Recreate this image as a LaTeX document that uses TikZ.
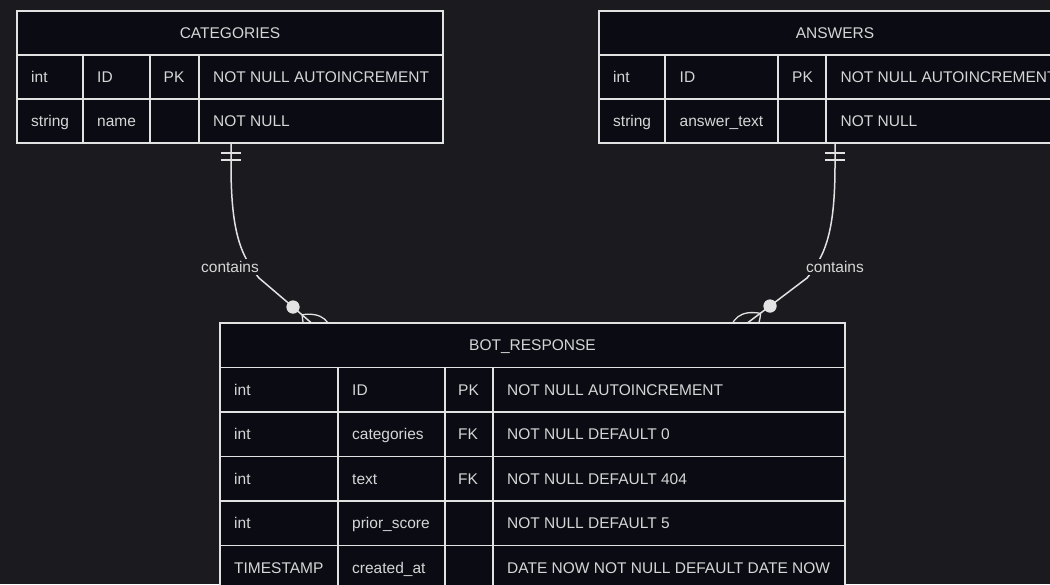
\documentclass[tikz,border=0pt]{standalone}
\usepackage{fontspec}
\setmainfont{Liberation Sans}
\usetikzlibrary{calc}
\definecolor{bgc}{HTML}{1B1B1F}
\definecolor{tfill}{HTML}{0B0B14}
\definecolor{linec}{HTML}{E2E2E2}
\definecolor{txtc}{HTML}{D6D6D6}
\tikzset{
  tbl/.style={draw=linec, fill=tfill, line width=1.6pt},
  grid/.style={draw=linec, line width=1.6pt},
  cell/.style={anchor=west, text=txtc, inner sep=0pt, text height=11.1pt, text depth=0pt, font=\fontsize{15.5pt}{18pt}\selectfont},
  hdr/.style={anchor=center, text=txtc, inner sep=0pt, text height=11.1pt, text depth=0pt, font=\fontsize{15.5pt}{18pt}\selectfont},
  lbl/.style={fill=bgc, text=txtc, inner sep=2pt, font=\fontsize{15.5pt}{18pt}\selectfont},
  conn/.style={draw=linec, line width=1.5pt},
  dot/.style={circle, fill=linec, draw=none, minimum size=13pt, inner sep=0pt},
}
\begin{document}
\begin{tikzpicture}[x=1pt,y=-1pt]
\useasboundingbox (0,0) rectangle (1050,584);
\fill[bgc] (0,0) rectangle (1050,584);

% ---- connectors (drawn first; tables cover their ends)
\coordinate (catFoot) at (231,143);
\coordinate (ansFoot) at (835,143);
\node[dot] (circL) at (293,307) {};
\node[dot] (circR) at (770,306) {};
\coordinate (botInL) at (323,333);
\coordinate (botInR) at (738,330);

\draw[conn] (catFoot) -- (231,165) .. controls (231,230) and (240,255) .. (259,278) -- (circL.center) -- (botInL);
\draw[conn] (ansFoot) -- (835,165) .. controls (835,230) and (826,255) .. (807,278) -- (circR.center) -- (botInR);

% crow's feet (lens markers)
\draw[conn, line width=1.3pt] (302.2,314.7) .. controls (321.8,312.0) and (332.0,320.6) .. (332.8,340.4)
   .. controls (313.2,343.1) and (303.0,334.6) .. (302.2,314.7);
\draw[conn, line width=1.3pt] (760.6,313.4) .. controls (741.1,309.8) and (730.5,317.8) .. (728.7,337.5)
   .. controls (748.2,341.2) and (758.9,333.1) .. (760.6,313.4);
\node[dot] at (circL) {};
\node[dot] at (circR) {};

\node[lbl] (lblL) at (230,267) {contains};
\node[lbl] (lblR) at (835,267) {contains};

% ---- CATEGORIES
\draw[tbl] (17,11) rectangle (443,143);
\draw[grid] (17,55) -- (443,55) (17,99) -- (443,99);
\draw[grid] (83,55) -- (83,143) (150,55) -- (150,143) (199,55) -- (199,143);
\node[hdr] (catH) at (230,33) {CATEGORIES};
\node[cell] (cat11) at (31,77) {int};
\node[cell] (cat12) at (97,77) {ID};
\node[cell] (cat13) at (163.5,77) {PK};
\node[cell] (cat14) at (213,77) {NOT NULL AUTOINCREMENT};
\node[cell] (cat21) at (31,121) {string};
\node[cell] (cat22) at (97,121) {name};
\node[cell] (cat24) at (213,121) {NOT NULL};

% ---- ANSWERS
\draw[tbl] (599,11) rectangle (1071,143);
\draw[grid] (599,55) -- (1071,55) (599,99) -- (1071,99);
\draw[grid] (665,55) -- (665,143) (778,55) -- (778,143) (826,55) -- (826,143);
\node[hdr] (ansH) at (835,33) {ANSWERS};
\node[cell] (ans11) at (613,77) {int};
\node[cell] (ans12) at (679.5,77) {ID};
\node[cell] (ans13) at (792,77) {PK};
\node[cell] (ans14) at (840.5,77) {NOT NULL AUTOINCREMENT};
\node[cell] (ans21) at (613,121) {string};
\node[cell] (ans22) at (679.5,121) {answer\_text};
\node[cell] (ans24) at (840.5,121) {NOT NULL};

% ---- BOT_RESPONSE
\draw[tbl] (220,323) rectangle (845,590);
\draw[grid] (220,367.5) -- (845,367.5) (220,412) -- (845,412) (220,456.5) -- (845,456.5)
            (220,501) -- (845,501) (220,545.5) -- (845,545.5);
\draw[grid] (338,367.5) -- (338,590) (445,367.5) -- (445,590) (493,367.5) -- (493,590);
\node[hdr] (botH) at (532.5,345.25) {BOT\_RESPONSE};
\node[cell] (b11) at (234,389.75) {int};
\node[cell] (b12) at (352,389.75) {ID};
\node[cell] (b13) at (458,389.75) {PK};
\node[cell] (b14) at (507,389.75) {NOT NULL AUTOINCREMENT};
\node[cell] (b21) at (234,434.25) {int};
\node[cell] (b22) at (352,434.25) {categories};
\node[cell] (b23) at (458,434.25) {FK};
\node[cell] (b24) at (507,434.25) {NOT NULL DEFAULT 0};
\node[cell] (b31) at (234,478.75) {int};
\node[cell] (b32) at (352,478.75) {text};
\node[cell] (b33) at (458,478.75) {FK};
\node[cell] (b34) at (507,478.75) {NOT NULL DEFAULT 404};
\node[cell] (b41) at (234,523.25) {int};
\node[cell] (b42) at (352,523.25) {prior\_score};
\node[cell] (b44) at (507,523.25) {NOT NULL DEFAULT 5};
\node[cell] (b51) at (234,567.75) {TIMESTAMP};
\node[cell] (b52) at (352,567.75) {created\_at};
\node[cell] (b54) at (507,567.75) {DATE NOW NOT NULL DEFAULT DATE NOW};

% ---- "exactly one" bars
\draw[conn] ($(catFoot)+(-10,10)$) -- ($(catFoot)+(10,10)$)
            ($(catFoot)+(-10,17)$) -- ($(catFoot)+(10,17)$);
\draw[conn] ($(ansFoot)+(-10,10)$) -- ($(ansFoot)+(10,10)$)
            ($(ansFoot)+(-10,17)$) -- ($(ansFoot)+(10,17)$);
\end{tikzpicture}
\end{document}
